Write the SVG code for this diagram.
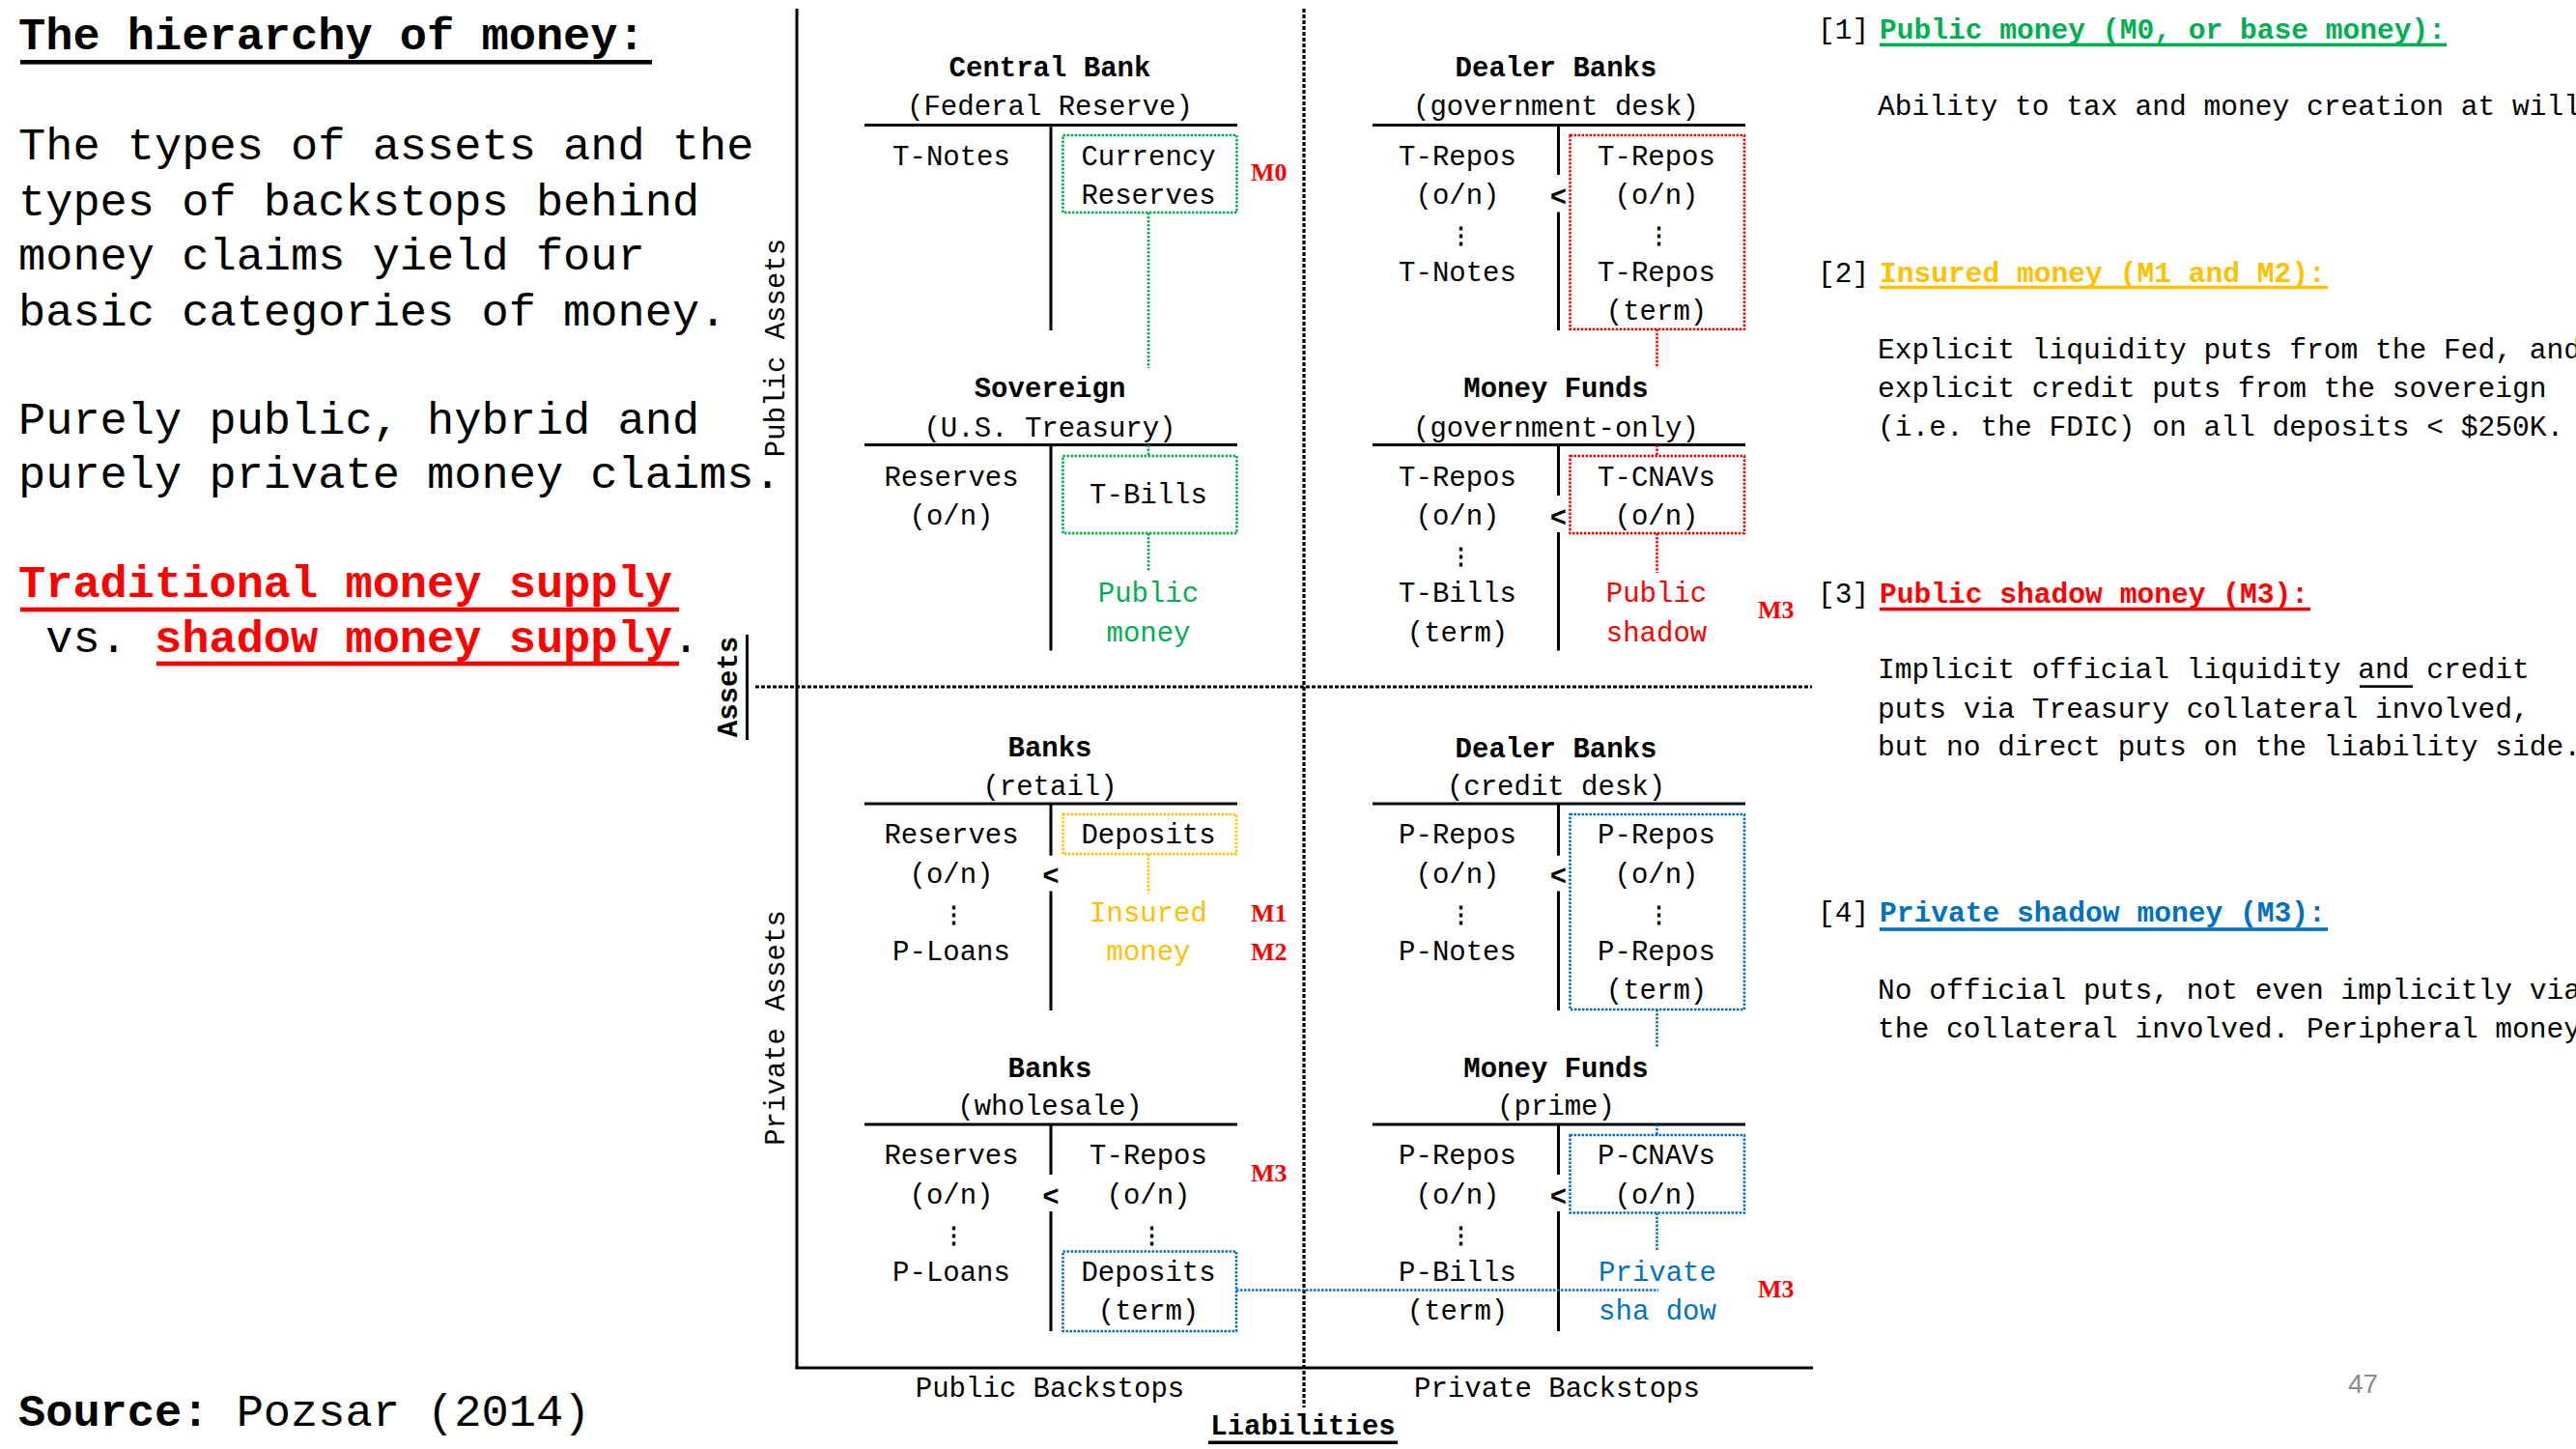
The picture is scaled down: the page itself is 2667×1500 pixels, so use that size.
<svg xmlns="http://www.w3.org/2000/svg" width="2667" height="1500" viewBox="0 0 2667 1500">
<style>
text{font-family:"Liberation Mono","DejaVu Sans Mono",monospace;fill:#000}
.big{font-size:47px}
.b{font-weight:bold}
.t{font-size:29px;text-anchor:middle}
.lt{font-size:29px;font-weight:bold;text-anchor:middle}
.r{font-size:29.6px}
.m{font-family:"Liberation Serif","DejaVu Serif",serif;font-weight:bold;font-size:26px;fill:#FF0000}
.dots{font-family:"DejaVu Sans Mono",monospace;font-size:23px;font-weight:bold;text-anchor:middle}
.ln{stroke:#000;stroke-width:3;fill:none}
.dash{stroke:#000;stroke-width:3.2;stroke-dasharray:4 2;fill:none}
.g{fill:#00B050}.red{fill:#FF0000}.y{fill:#FFC000}.bl{fill:#0070C0}
.box{fill:none;stroke-width:2.5;stroke-dasharray:2.5 1.5}
.bg{stroke:#00B050}.br{stroke:#FF0000}.by{stroke:#FFC000}.bb{stroke:#0070C0}
.pg{font-family:"Liberation Sans",Arial,sans-serif;font-size:28px;fill:#8C8C8C}
</style>

<g id="intro">
<text class="big b" x="19" y="51">The hierarchy of money:</text>
<rect x="21" y="62" width="654" height="4.6"/>
<text class="big" x="19" y="165">The types of assets and the</text>
<text class="big" x="19" y="222.7">types of backstops behind</text>
<text class="big" x="19" y="279">money claims yield four</text>
<text class="big" x="19" y="336.5">basic categories of money.</text>
<text class="big" x="19" y="449">Purely public, hybrid and</text>
<text class="big" x="19" y="505">purely private money claims.</text>
<text class="big b red" x="19" y="617.5">Traditional money supply</text>
<rect x="21" y="628.7" width="682" height="4.6" fill="#FF0000"/>
<text class="big" x="47.2" y="675">vs. <tspan class="b red">shadow money supply</tspan>.</text>
<rect x="162" y="684.7" width="541" height="4.6" fill="#FF0000"/>
<text class="big" x="19" y="1476"><tspan class="b">Source:</tspan> Pozsar (2014)</text>
</g>

<g id="axes">
<line class="ln" x1="825" y1="9" x2="825" y2="1417"/>
<line class="ln" x1="823.5" y1="1416" x2="1877" y2="1416" stroke-width="3.5"/>
<line class="dash" x1="1350" y1="9" x2="1350" y2="1457"/>
<line class="dash" x1="782" y1="711" x2="1876" y2="711"/>
<text class="t" transform="translate(812,360) rotate(-90)">Public Assets</text>
<text class="t" transform="translate(812,1064) rotate(-90)">Private Assets</text>
<text class="lt" transform="translate(763,711) rotate(-90)">Assets</text>
<line x1="773.5" y1="657" x2="773.5" y2="766" stroke="#000" stroke-width="3"/>
<text class="t" x="1087" y="1446">Public Backstops</text>
<text class="t" x="1612" y="1446">Private Backstops</text>
<text class="lt" x="1349" y="1485">Liabilities</text>
<rect x="1251" y="1491.5" width="196" height="3.5"/>
</g>

<g id="central-bank">
<text class="lt" x="1087" y="79">Central Bank</text>
<text class="t" x="1087" y="119">(Federal Reserve)</text>
<path class="ln" d="M895 129.5H1281M1088 129.5V342"/>
<text class="t" x="985" y="171">T-Notes</text>
<rect class="box bg" x="1100.5" y="140" width="180" height="80"/>
<text class="t" x="1189" y="171">Currency</text>
<text class="t" x="1189" y="211">Reserves</text>
<text class="m" x="1295" y="187">M0</text>
</g>

<g id="sovereign">
<text class="lt" x="1087" y="411">Sovereign</text>
<text class="t" x="1087" y="452">(U.S. Treasury)</text>
<path class="ln" d="M895 460.5H1281M1088 460.5V673.5"/>
<text class="t" x="985" y="503">Reserves</text>
<text class="t" x="985" y="543">(o/n)</text>
<rect class="box bg" x="1100.5" y="472" width="180" height="80"/>
<text class="t" x="1189" y="521">T-Bills</text>
<text class="t g" x="1189" y="623">Public</text>
<text class="t g" x="1189" y="663.5">money</text>
</g>

<g id="dealer-government-desk">
<text class="lt" x="1611" y="79">Dealer Banks</text>
<text class="t" x="1611" y="119">(government desk)</text>
<path class="ln" d="M1421 129.5H1807M1613.5 129.5V181M1613.5 219.5V342"/>
<text class="lt" x="1613.5" y="213">&lt;</text>
<text class="t" x="1509" y="171">T-Repos</text>
<text class="t" x="1509" y="211">(o/n)</text>
<text class="dots" x="1512" y="251">⋮</text>
<text class="t" x="1509" y="291">T-Notes</text>
<rect class="box br" x="1625.5" y="140" width="180.5" height="200.7"/>
<text class="t" x="1715" y="171">T-Repos</text>
<text class="t" x="1715" y="211">(o/n)</text>
<text class="dots" x="1717" y="251">⋮</text>
<text class="t" x="1715" y="291">T-Repos</text>
<text class="t" x="1715" y="331">(term)</text>
</g>

<g id="money-funds-government">
<text class="lt" x="1611" y="411">Money Funds</text>
<text class="t" x="1611" y="452">(government-only)</text>
<path class="ln" d="M1421 460.5H1807M1613.5 460.5V513M1613.5 551V673.5"/>
<text class="lt" x="1613.5" y="545">&lt;</text>
<text class="t" x="1509" y="503">T-Repos</text>
<text class="t" x="1509" y="543">(o/n)</text>
<text class="dots" x="1512" y="583">⋮</text>
<text class="t" x="1509" y="623">T-Bills</text>
<text class="t" x="1509" y="663.5">(term)</text>
<rect class="box br" x="1625.5" y="472" width="180.5" height="80"/>
<text class="t" x="1715" y="503">T-CNAVs</text>
<text class="t" x="1715" y="543">(o/n)</text>
<text class="t red" x="1715" y="623">Public</text>
<text class="t red" x="1715" y="663.5">shadow</text>
<text class="m" x="1820" y="640">M3</text>
</g>

<g id="banks-retail">
<text class="lt" x="1087" y="782.6">Banks</text>
<text class="t" x="1087" y="822.7">(retail)</text>
<path class="ln" d="M895 832H1281M1088 832V885.7M1088 922.5V1046"/>
<text class="lt" x="1088" y="916">&lt;</text>
<text class="t" x="985" y="873">Reserves</text>
<text class="t" x="985" y="914">(o/n)</text>
<text class="dots" x="987" y="954">⋮</text>
<text class="t" x="985" y="994">P-Loans</text>
<rect class="box by" x="1100.5" y="843" width="179.5" height="41"/>
<text class="t" x="1189" y="873">Deposits</text>
<text class="t y" x="1189" y="954">Insured</text>
<text class="t y" x="1189" y="994">money</text>
<text class="m" x="1295" y="954">M1</text>
<text class="m" x="1295" y="994">M2</text>
</g>

<g id="banks-wholesale">
<text class="lt" x="1087" y="1114.5">Banks</text>
<text class="t" x="1087" y="1154">(wholesale)</text>
<path class="ln" d="M895 1164H1281M1088 1164V1216M1088 1254V1378"/>
<text class="lt" x="1088" y="1248">&lt;</text>
<text class="t" x="985" y="1205">Reserves</text>
<text class="t" x="985" y="1246">(o/n)</text>
<text class="dots" x="987" y="1286">⋮</text>
<text class="t" x="985" y="1326">P-Loans</text>
<text class="t" x="1189" y="1205">T-Repos</text>
<text class="t" x="1189" y="1246">(o/n)</text>
<text class="dots" x="1192" y="1286">⋮</text>
<rect class="box bb" x="1100.5" y="1295.5" width="179.5" height="82.5"/>
<text class="t" x="1189" y="1326">Deposits</text>
<text class="t" x="1189" y="1366">(term)</text>
<text class="m" x="1295" y="1222.5">M3</text>
</g>

<g id="dealer-credit-desk">
<text class="lt" x="1611" y="783.7">Dealer Banks</text>
<text class="t" x="1611" y="822.7">(credit desk)</text>
<path class="ln" d="M1421 832H1807M1613.5 832V885.7M1613.5 922.5V1046"/>
<text class="lt" x="1613.5" y="916">&lt;</text>
<text class="t" x="1509" y="873">P-Repos</text>
<text class="t" x="1509" y="914">(o/n)</text>
<text class="dots" x="1512" y="954">⋮</text>
<text class="t" x="1509" y="994">P-Notes</text>
<rect class="box bb" x="1625.5" y="843" width="180.5" height="202"/>
<text class="t" x="1715" y="873">P-Repos</text>
<text class="t" x="1715" y="914">(o/n)</text>
<text class="dots" x="1717" y="954">⋮</text>
<text class="t" x="1715" y="994">P-Repos</text>
<text class="t" x="1715" y="1034">(term)</text>
</g>

<g id="money-funds-prime">
<text class="lt" x="1611" y="1114.5">Money Funds</text>
<text class="t" x="1611" y="1154">(prime)</text>
<path class="ln" d="M1421 1164H1807M1613.5 1164V1216M1613.5 1254V1378"/>
<text class="lt" x="1613.5" y="1248">&lt;</text>
<text class="t" x="1509" y="1205">P-Repos</text>
<text class="t" x="1509" y="1246">(o/n)</text>
<text class="dots" x="1512" y="1286">⋮</text>
<text class="t" x="1509" y="1326">P-Bills</text>
<text class="t" x="1509" y="1366">(term)</text>
<rect class="box bb" x="1625.5" y="1175" width="180.5" height="80.5"/>
<text class="t" x="1715" y="1205">P-CNAVs</text>
<text class="t" x="1715" y="1246">(o/n)</text>
<text class="t bl" x="1716" y="1326">Private</text>
<text class="t bl" x="1716" y="1366">sha dow</text>
<text class="m" x="1820" y="1343">M3</text>
</g>

<g id="connectors" fill="none" stroke-width="2.5" stroke-dasharray="2.5 1.5">
<path stroke="#00B050" d="M1189 220V381M1189 460.5V472M1189 552V592"/>
<path stroke="#FF0000" d="M1715.5 340.7V381M1715.5 460.5V472M1715.5 552V593"/>
<path stroke="#FFC000" d="M1189 884V925"/>
<path stroke="#0070C0" d="M1715.5 1045V1084M1715.5 1164V1175M1715.5 1255.5V1295.5M1280 1335.5H1717"/>
</g>

<g id="legend">
<text class="r" x="1882" y="40">[1]</text>
<text class="r b g" x="1946" y="40">Public money (M0, or base money):</text>
<rect x="1946" y="44.6" width="587" height="3.6" fill="#00B050"/>
<text class="r" x="1944" y="119">Ability to tax and money creation at will</text>

<text class="r" x="1882" y="292">[2]</text>
<text class="r b y" x="1946" y="292">Insured money (M1 and M2):</text>
<rect x="1946" y="295.7" width="464" height="3.6" fill="#FFC000"/>
<text class="r" x="1944" y="371.4">Explicit liquidity puts from the Fed, and</text>
<text class="r" x="1944" y="410.7">explicit credit puts from the sovereign</text>
<text class="r" x="1944" y="450.7">(i.e. the FDIC) on all deposits &lt; $250K.</text>

<text class="r" x="1882" y="623.7">[3]</text>
<text class="r b red" x="1946" y="623.7">Public shadow money (M3):</text>
<rect x="1946" y="628.8" width="446" height="3.6" fill="#FF0000"/>
<text class="r" x="1944" y="702">Implicit official liquidity and credit</text>
<rect x="2443" y="709.3" width="55" height="2.6"/>
<text class="r" x="1944" y="742.5">puts via Treasury collateral involved,</text>
<text class="r" x="1944" y="782">but no direct puts on the liability side.</text>

<text class="r" x="1882" y="954">[4]</text>
<text class="r b bl" x="1946" y="954">Private shadow money (M3):</text>
<rect x="1946" y="960.2" width="464" height="3.6" fill="#0070C0"/>
<text class="r" x="1944" y="1034">No official puts, not even implicitly via</text>
<text class="r" x="1944" y="1074">the collateral involved. Peripheral money</text>
</g>

<text class="pg" x="2431" y="1442">47</text>
</svg>
